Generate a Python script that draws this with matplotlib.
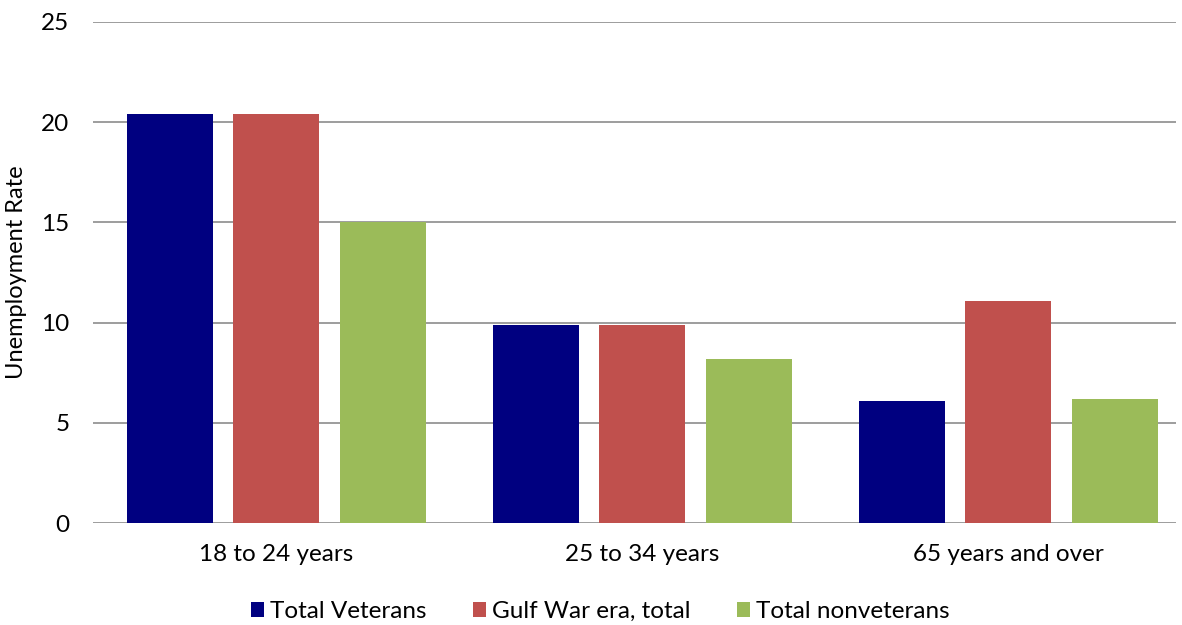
import numpy as np
import matplotlib
matplotlib.use("Agg")
import matplotlib.pyplot as plt

plt.rcParams["font.family"] = ["Lato", "DejaVu Sans"]

# values
age_groups = ["18 to 24 years", "25 to 34 years", "65 years and over"]
series_names = ["Total Veterans", "Gulf War era, total", "Total nonveterans"]
total_veterans = [20.4, 9.9, 6.1]
gulf_war_era = [20.4, 9.9, 11.1]
total_nonveterans = [15.0, 8.2, 6.2]
y_ticks = [0, 5, 10, 15, 20, 25]

colors = ["#000080", "#C0504D", "#9BBB59"]

fig = plt.figure(figsize=(11.82, 6.25), dpi=100)
ax = fig.add_axes([0.0787, 0.1632, 0.9163, 0.8016])

x = np.arange(len(age_groups))
width = 0.235
offset = 0.291
for i, (name, vals) in enumerate(zip(series_names,
                                      [total_veterans, gulf_war_era, total_nonveterans])):
    ax.bar(x + (i - 1) * offset, vals, width, color=colors[i], label=name, zorder=3)

ax.set_xlim(-0.5, 2.459)
ax.set_ylim(0, 25)
ax.set_yticks(y_ticks)
ax.set_xticks(x)
ax.set_xticklabels(age_groups, fontsize=17.5)
ax.tick_params(axis="y", labelsize=17.5, length=0, pad=17)
ax.tick_params(axis="x", length=0, pad=15)
ax.yaxis.grid(True, color="#8c8c8c", lw=1.2, zorder=0)
for s in ax.spines.values():
    s.set_visible(False)
ax.set_ylabel("Unemployment Rate", fontsize=17, labelpad=10)

fig.legend(*ax.get_legend_handles_labels(), loc="upper center",
           bbox_to_anchor=(0.508, 0.054), ncol=3, frameon=False,
           fontsize=17.5, handlelength=0.55, handleheight=0.55, handletextpad=0.25,
           columnspacing=1.9, borderaxespad=0)

fig.savefig("out.png", dpi=100)
